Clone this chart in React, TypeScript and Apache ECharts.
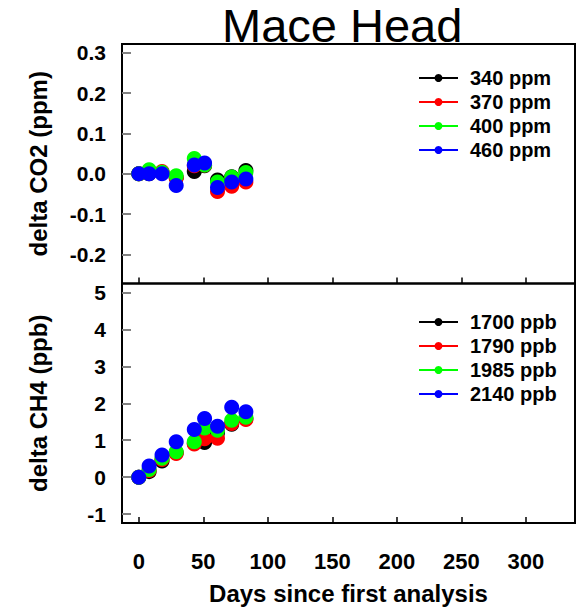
import React, { useEffect, useRef } from "react";
import * as echarts from "echarts";

const titleText = "Mace Head";
const xTitle = "Days since first analysis";
const co2Title = "delta CO2 (ppm)";
const ch4Title = "delta CH4 (ppb)";

const days = [0, 8, 18, 29, 43, 51, 61, 72, 83];
const dayTicks = [0, 50, 100, 150, 200, 250, 300];
const co2Ticks = [-0.2, -0.1, 0.0, 0.1, 0.2, 0.3];
const ch4Ticks = [-1, 0, 1, 2, 3, 4, 5];

const co2Names = ["340 ppm", "370 ppm", "400 ppm", "460 ppm"];
const co2_340 = [0, 0, 0.003, -0.01, 0.006, 0.02, -0.015, -0.007, 0.008];
const co2_370 = [0, 0.002, 0.006, -0.01, 0.02, 0.022, -0.044, -0.031, -0.02];
const co2_400 = [0, 0.01, 0.004, -0.005, 0.038, 0.022, -0.02, -0.008, 0.003];
const co2_460 = [0, 0, 0, -0.029, 0.022, 0.027, -0.034, -0.02, -0.013];

const ch4Names = ["1700 ppb", "1790 ppb", "1985 ppb", "2140 ppb"];
const ch4_1700 = [0, 0.15, 0.44, 0.66, 0.92, 0.94, 1.2, 1.43, 1.58];
const ch4_1790 = [0, 0.18, 0.48, 0.64, 0.9, 1.04, 1.05, 1.45, 1.56];
const ch4_1985 = [0, 0.21, 0.51, 0.69, 0.96, 1.33, 1.27, 1.54, 1.62];
const ch4_2140 = [0, 0.3, 0.6, 0.96, 1.29, 1.59, 1.38, 1.89, 1.77];

const colors = ["#000000", "#ff0000", "#00ff00", "#0000ff"];

const FONT = "Liberation Sans";

function App() {
  const ref = useRef<HTMLDivElement>(null);
  useEffect(() => {
    if (!ref.current) return;
    const chart = echarts.init(ref.current, null, { renderer: "svg" });
    const co2Sets = [co2_340, co2_370, co2_400, co2_460];
    const ch4Sets = [ch4_1700, ch4_1790, ch4_1985, ch4_2140];
    const mk = (name: string, vals: number[], color: string, idx: number) => ({
      name,
      type: "line",
      xAxisIndex: idx,
      yAxisIndex: idx,
      data: days.map((d, i) => [d, vals[i]]),
      symbol: "circle",
      symbolSize: 15,
      showSymbol: true,
      color,
      itemStyle: { color, borderWidth: 0 },
      lineStyle: { width: 0, opacity: 0, color },
      emphasis: { disabled: true },
      silent: true,
    });
    const tickLabelStyle = {
      fontFamily: FONT,
      fontWeight: "bold" as const,
      fontSize: 21,
      color: "#000",
    };
    const nameStyle = {
      fontFamily: FONT,
      fontWeight: "bold" as const,
      fontSize: 24,
      color: "#000",
    };
    const legendCommon = {
      orient: "vertical" as const,
      left: 413,
      itemWidth: 39,
      itemHeight: 10,
      itemGap: 4,
      selectedMode: false,
      lineStyle: { width: 2, opacity: 1 },
      textStyle: {
        fontFamily: FONT,
        fontWeight: "bold" as const,
        fontSize: 20,
        color: "#000",
        padding: [0, 0, 0, 7],
      },
    };
    const xAxisBase = {
      type: "value" as const,
      min: -13,
      max: 338,
      axisLine: { show: false, onZero: false },
      splitLine: { show: false },
      axisTick: {
        show: true,
        inside: true,
        length: 6,
        customValues: dayTicks,
        lineStyle: { color: "#000", width: 1.5 },
      },
    };
    const yTick = (vals: number[]) => ({
      show: true,
      inside: true,
      length: 9,
      customValues: vals,
      lineStyle: { color: "#808080", width: 2 },
    });
    chart.setOption({
      animation: false,
      backgroundColor: "#ffffff",
      title: {
        text: titleText,
        left: 222,
        top: 2,
        padding: 0,
        textStyle: {
          fontFamily: FONT,
          fontWeight: "normal",
          fontSize: 47,
          color: "#000",
        },
      },
      legend: [
        { ...legendCommon, top: 63, data: co2Names },
        { ...legendCommon, top: 307, data: ch4Names },
      ],
      grid: [
        {
          left: 122,
          right: 4,
          top: 44,
          height: 239.5,
          show: true,
          borderColor: "#000",
          borderWidth: 2,
          backgroundColor: "transparent",
          outerBoundsMode: "none",
        },
        {
          left: 122,
          right: 4,
          top: 283.5,
          height: 239.5,
          show: true,
          borderColor: "#000",
          borderWidth: 2,
          backgroundColor: "transparent",
          outerBoundsMode: "none",
        },
      ],
      xAxis: [
        {
          ...xAxisBase,
          gridIndex: 0,
          axisLabel: { show: false },
        },
        {
          ...xAxisBase,
          gridIndex: 1,
          axisLabel: {
            ...tickLabelStyle,
            fontSize: 22,
            customValues: dayTicks,
            margin: 27,
            formatter: (v: number) => String(v),
          },
          name: xTitle,
          nameLocation: "middle",
          nameGap: 58,
          nameTextStyle: nameStyle,
        },
      ],
      yAxis: [
        {
          type: "value",
          gridIndex: 0,
          min: -0.272,
          max: 0.322,
          axisLine: { show: false, onZero: false },
          splitLine: { show: false },
          axisTick: yTick(co2Ticks),
          axisLabel: {
            ...tickLabelStyle,
            customValues: co2Ticks,
            margin: 16,
            formatter: (v: number) => v.toFixed(1),
          },
          name: co2Title,
          nameLocation: "middle",
          nameGap: 72,
          nameTextStyle: nameStyle,
        },
        {
          type: "value",
          gridIndex: 1,
          min: -1.24,
          max: 5.24,
          axisLine: { show: false, onZero: false },
          splitLine: { show: false },
          axisTick: yTick(ch4Ticks),
          axisLabel: {
            ...tickLabelStyle,
            customValues: ch4Ticks,
            margin: 16,
            formatter: (v: number) => String(v),
          },
          name: ch4Title,
          nameLocation: "middle",
          nameGap: 72,
          nameTextStyle: nameStyle,
        },
      ],
      series: [
        ...co2Sets.map((s, i) => mk(co2Names[i], s, colors[i], 0)),
        ...ch4Sets.map((s, i) => mk(ch4Names[i], s, colors[i], 1)),
      ],
    });
    return () => chart.dispose();
  }, []);
  return (
    <div
      ref={ref}
      style={{ position: "fixed", left: 0, top: 0, width: 579, height: 610 }}
    />
  );
}

export default App;
